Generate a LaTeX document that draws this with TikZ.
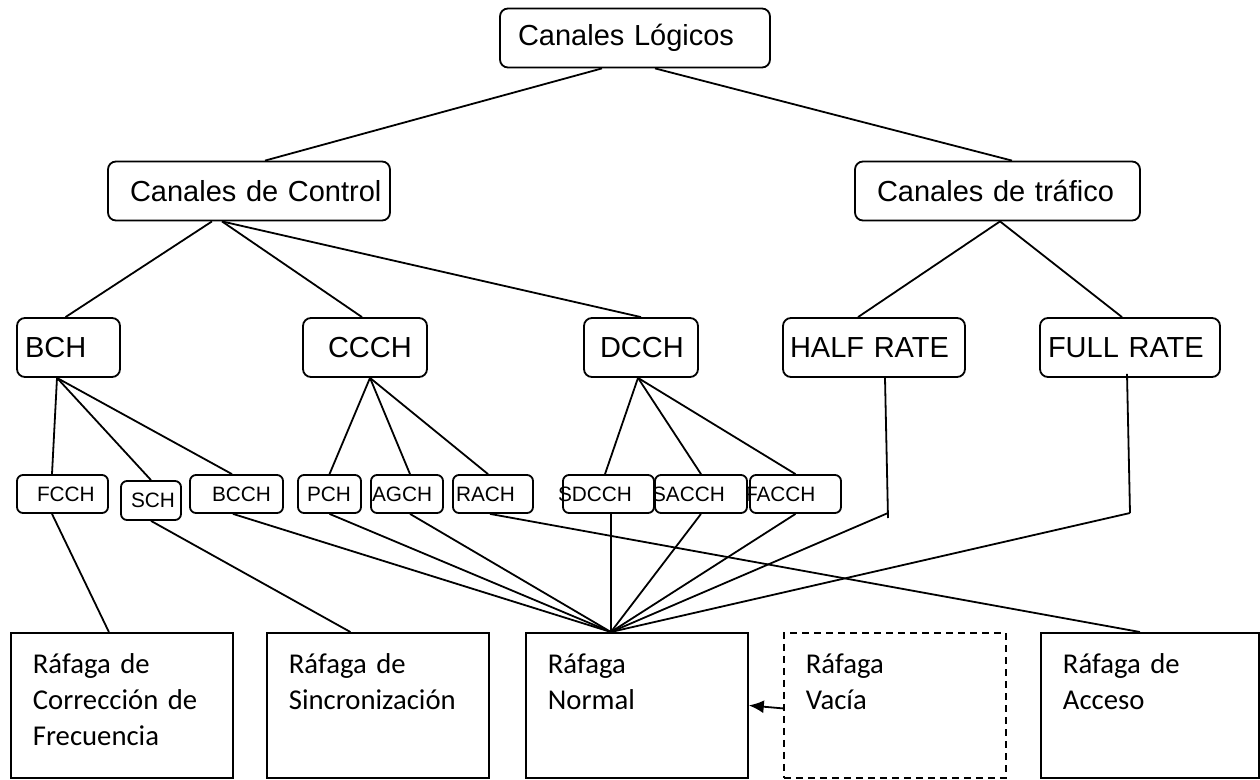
\documentclass[tikz,border=0pt]{standalone}
\usepackage{fontspec}
\setmainfont{Liberation Sans}
\newfontfamily\calibri{Carlito}
\usepackage{tikz}
\usetikzlibrary{arrows.meta}
\tikzstyle{chan} = [draw, line width=1.8pt, rounded corners=8pt, inner xsep=0pt, inner ysep=0pt, minimum height=59pt, align=left, font=\fontsize{29}{34}\selectfont]
\tikzstyle{tag} = [draw, line width=1.8pt, rounded corners=6pt, inner xsep=0pt, inner ysep=0pt, minimum height=38pt, align=left, font=\fontsize{20.8}{24}\selectfont]
\tikzstyle{burst} = [draw, line width=1.8pt, anchor=north west, inner xsep=22pt, inner ysep=0pt, text width=178pt, align=left, text height=41pt, text depth=104pt, font=\calibri\fontsize{28.7}{36}\selectfont]
\tikzstyle{link} = [line width=1.8pt]

\begin{document}
\begin{tikzpicture}[x=1pt, y=-1pt]
    \useasboundingbox (0,0) rectangle (1260,779);

    \node[chan, text width=270pt] (logicos) at (635,38) {\hspace*{18pt}Canales Lógicos};
    \node[chan, text width=282pt] (control) at (249,191) {\hspace*{22pt}Canales de Control};
    \node[chan, text width=285pt] (trafico) at (997.5,191) {\hspace*{22pt}Canales de tráfico};

    \node[chan, text width=103pt] (bch) at (68.5,347.5) {\hspace*{8pt}BCH};
    \node[chan, text width=124pt] (ccch) at (365,347.5) {\hspace*{25pt}CCCH};
    \node[chan, text width=114pt] (dcch) at (641,347.5) {\hspace*{16pt}DCCH};
    \node[chan, text width=182pt] (half) at (874,347.5) {\hspace*{7pt}HALF RATE};
    \node[chan, text width=180pt] (full) at (1130,347.5) {\hspace*{8pt}FULL RATE};

    \node[tag, text width=91pt] (fcch) at (62.5,494) {\hspace*{20pt}FCCH};
    \node[tag, text width=60pt, minimum height=39pt] (sch) at (151,500.5) {\hspace*{10pt}SCH};
    \node[tag, text width=93pt] (bcch) at (236.5,494) {\hspace*{22pt}BCCH};
    \node[tag, text width=63pt] (pch) at (329.5,494) {\hspace*{9pt}PCH};
    \node[tag, text width=72pt] (agch) at (407,494) {\hspace*{1pt}AGCH};
    \node[tag, text width=80pt] (rach) at (493,494) {\hspace*{3pt}RACH};
    \node[tag, text width=91pt] (sdcch) at (608.5,494) {\hspace*{-5pt}SDCCH};
    \node[tag, text width=92pt] (sacch) at (701,494) {\hspace*{-3pt}SACCH};
    \node[tag, text width=91pt] (facch) at (795.5,494) {\hspace*{-5pt}FACCH};

    \node[burst] (corr) at (10,632) {Ráfaga de\\Corrección de\\Frecuencia};
    \node[burst] (sinc) at (266,632) {Ráfaga de\\Sincronización};
    \node[burst] (normal) at (525,632) {Ráfaga\\Normal};
    \node[burst, dash pattern=on 7pt off 5pt] (vacia) at (783,632) {Ráfaga\\Vacía};
    \node[burst, text width=174pt] (acceso) at (1040,632) {Ráfaga de\\Acceso};

    \coordinate (hub) at ([xshift=-26pt]normal.north);
    \coordinate (hr) at (888,513);
    \coordinate (fr) at (1130,513);

    \draw[link] ([xshift=-33pt]logicos.south) -- ([xshift=16pt]control.north);
    \draw[link] ([xshift=20pt]logicos.south) -- ([xshift=14.5pt]trafico.north);

    \draw[link] ([xshift=-37pt]control.south) -- ([xshift=-3pt]bch.north);
    \draw[link] ([xshift=-27pt]control.south) -- ([xshift=-3pt]ccch.north);
    \draw[link] ([xshift=-27pt]control.south) -- (dcch.north);
    \draw[link] ([xshift=2.5pt]trafico.south) -- ([xshift=-16pt]half.north);
    \draw[link] ([xshift=2.5pt]trafico.south) -- ([xshift=-8pt]full.north);

    \draw[link] ([xshift=-11.5pt]bch.south) -- ([xshift=-10.5pt]fcch.north);
    \draw[link] ([xshift=-11.5pt]bch.south) -- (sch.north);
    \draw[link] ([xshift=-11.5pt]bch.south) -- ([xshift=-4.5pt]bcch.north);
    \draw[link] ([xshift=5pt]ccch.south) -- (pch.north);
    \draw[link] ([xshift=5pt]ccch.south) -- ([xshift=3pt]agch.north);
    \draw[link] ([xshift=5pt]ccch.south) -- ([xshift=-5pt]rach.north);
    \draw[link] ([xshift=-3pt]dcch.south) -- ([xshift=-3.5pt]sdcch.north);
    \draw[link] ([xshift=-3pt]dcch.south) -- (sacch.north);
    \draw[link] ([xshift=-3pt]dcch.south) -- (facch.north);

    \draw[link] ([xshift=11pt]half.south) -- ([yshift=-5pt]hr);
    \draw[link] ([xshift=-3pt, yshift=4pt]full.south) -- (fr);

    \draw[link] ([xshift=-10.5pt]fcch.south) -- ([xshift=-13pt]corr.north);
    \draw[link] (sch.south) -- ([xshift=-27.5pt]sinc.north);
    \draw[link] ([xshift=-3.5pt]bcch.south) -- (hub);
    \draw[link] (pch.south) -- (hub);
    \draw[link] ([xshift=3pt]agch.south) -- (hub);
    \draw[link] ([xshift=-3pt]rach.south) -- ([xshift=-10pt]acceso.north);
    \draw[link] (sdcch.south -| hub) -- (hub);
    \draw[link] (sacch.south) -- (hub);
    \draw[link] (facch.south) -- (hub);
    \draw[link] (hr) -- (hub);
    \draw[link] (fr) -- (hub);

    \draw[link, -{Latex[length=15pt, width=13pt]}] ([yshift=-3pt]vacia.west) -- (normal.east);
\end{tikzpicture}
\end{document}
